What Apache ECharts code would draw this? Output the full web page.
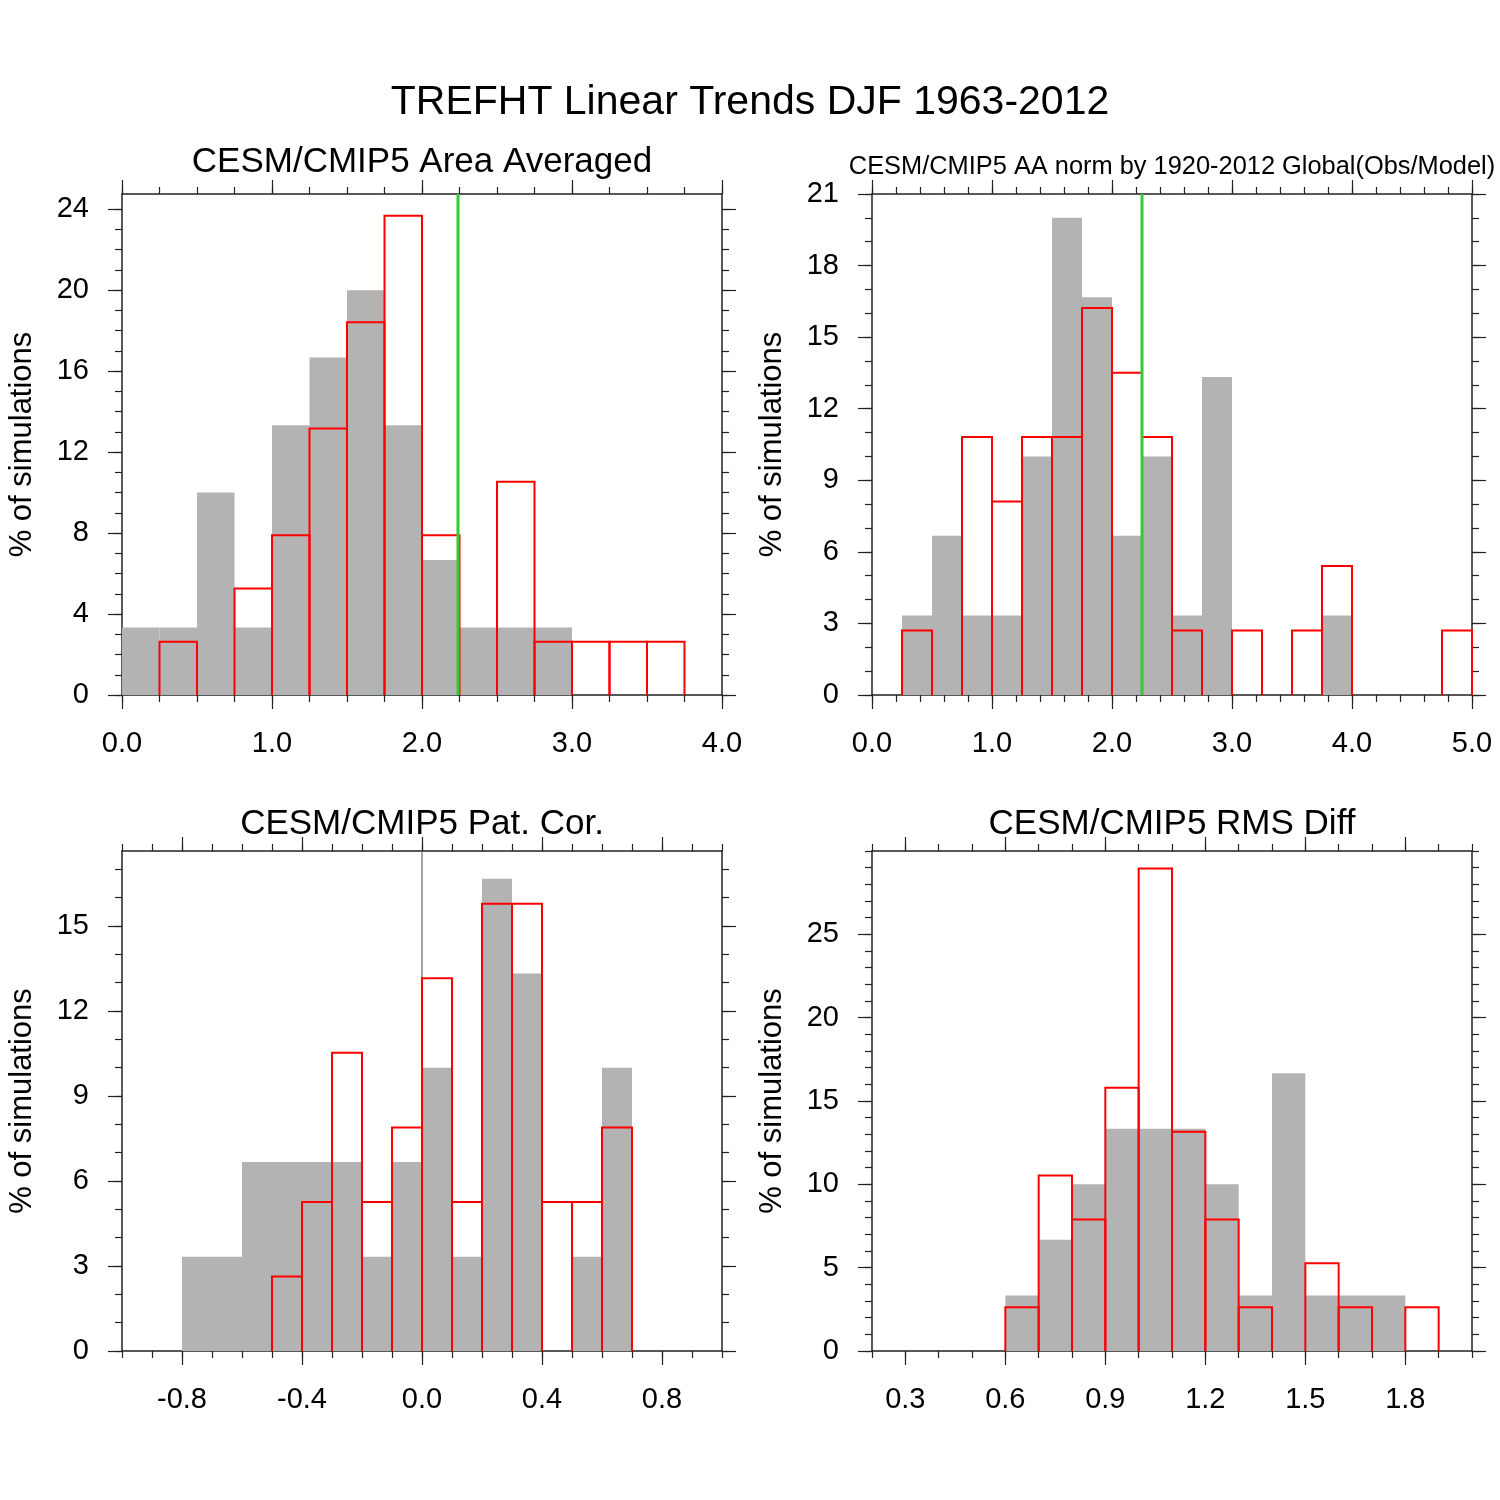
<!DOCTYPE html>
<html lang="en" style="height: 100%">
<head>
  <meta charset="utf-8">
</head>
<body style="height: 100%; margin: 0; background: #fff">
  <div id="container" style="width: 1500px; height: 1500px"></div>

<script type="text/javascript" src="https://cdn.jsdelivr.net/npm/echarts@6/dist/echarts.min.js"></script>

<script type="text/javascript">
// ---- data: percent of simulations per bin (gray = CESM, red = CMIP5) ----
// area averaged trend, bins of 0.25
var aaEdges = [0, 0.25, 0.5, 0.75, 1.0, 1.25, 1.5, 1.75, 2.0, 2.25, 2.5, 2.75, 3.0, 3.25, 3.5, 3.75];
var aaGray  = [3.33, 3.33, 10, 3.33, 13.33, 16.67, 20, 13.33, 6.67, 3.33, 3.33, 3.33, 0, 0, 0, 0];
var aaRed   = [0, 2.63, 0, 5.26, 7.89, 13.16, 18.42, 23.68, 7.89, 0, 10.53, 2.63, 2.63, 2.63, 2.63, 0];
var aaObs = 2.24;

// AA normalised by global trend, bins of 0.25
var normEdges = [0, 0.25, 0.5, 0.75, 1.0, 1.25, 1.5, 1.75, 2.0, 2.25, 2.5, 2.75, 3.0, 3.25, 3.5, 3.75, 4.0, 4.25, 4.5, 4.75];
var normGray  = [0, 3.33, 6.67, 3.33, 3.33, 10, 20, 16.67, 6.67, 10, 3.33, 13.33, 0, 0, 0, 3.33, 0, 0, 0, 0];
var normRed   = [0, 2.70, 0, 10.81, 8.11, 10.81, 10.81, 16.22, 13.51, 10.81, 2.70, 0, 2.70, 0, 2.70, 5.41, 0, 0, 0, 2.70];
var normObs = 2.25;

// pattern correlation, bins of 0.1
var patEdges = [-1.0, -0.9, -0.8, -0.7, -0.6, -0.5, -0.4, -0.3, -0.2, -0.1, 0, 0.1, 0.2, 0.3, 0.4, 0.5, 0.6, 0.7, 0.8, 0.9];
var patGray  = [0, 0, 3.33, 3.33, 6.67, 6.67, 6.67, 6.67, 3.33, 6.67, 10, 3.33, 16.67, 13.33, 0, 3.33, 10, 0, 0, 0];
var patRed   = [0, 0, 0, 0, 0, 2.63, 5.26, 10.53, 5.26, 7.89, 13.16, 5.26, 15.79, 15.79, 5.26, 5.26, 7.89, 0, 0, 0];
var patRef = 0;

// RMS difference, bins of 0.1
var rmsEdges = [0.2, 0.3, 0.4, 0.5, 0.6, 0.7, 0.8, 0.9, 1.0, 1.1, 1.2, 1.3, 1.4, 1.5, 1.6, 1.7, 1.8, 1.9];
var rmsGray  = [0, 0, 0, 0, 3.33, 6.67, 10, 13.33, 13.33, 13.33, 10, 3.33, 16.67, 3.33, 3.33, 3.33, 0, 0];
var rmsRed   = [0, 0, 0, 0, 2.63, 10.53, 7.89, 15.79, 28.95, 13.16, 7.89, 2.63, 0, 5.26, 2.63, 0, 2.63, 0];

// tick labels
var aaXTicks   = [0, 1, 2, 3, 4];
var aaYTicks   = [0, 4, 8, 12, 16, 20, 24];
var normXTicks = [0, 1, 2, 3, 4, 5];
var normYTicks = [0, 3, 6, 9, 12, 15, 18, 21];
var patXTicks  = [-0.8, -0.4, 0, 0.4, 0.8];
var patYTicks  = [0, 3, 6, 9, 12, 15];
var rmsXTicks  = [0.3, 0.6, 0.9, 1.2, 1.5, 1.8];
var rmsYTicks  = [0, 5, 10, 15, 20, 25];

var FONT = "'Liberation Sans', Arial, Helvetica, sans-serif";
var FRAME = '#222';

var dom = document.getElementById('container');
var myChart = echarts.init(dom, null, { renderer: 'canvas' });

function steps(min, max, step) {
  var out = [];
  var n = Math.round((max - min) / step);
  for (var i = 0; i <= n; i++) out.push(+(min + i * step).toFixed(4));
  return out;
}

function histData(edges, width, vals) {
  return edges.map(function (e, i) { return [e, +(e + width).toFixed(4), vals[i]]; })
    .filter(function (d) { return d[2] > 0; });
}

function grayBar(params, api) {
  var p0 = api.coord([api.value(0), api.value(2)]);
  var p1 = api.coord([api.value(1), 0]);
  return {
    type: 'rect',
    shape: { x: p0[0], y: p0[1], width: p1[0] - p0[0], height: p1[1] - p0[1] },
    style: { fill: '#b3b3b3' }
  };
}

function redBar(params, api) {
  var a = api.coord([api.value(0), 0]);
  var b = api.coord([api.value(0), api.value(2)]);
  var c = api.coord([api.value(1), api.value(2)]);
  var d = api.coord([api.value(1), 0]);
  return {
    type: 'polyline',
    shape: { points: [a, b, c, d] },
    style: { stroke: '#ff0000', lineWidth: 2, fill: null }
  };
}

// four axes per side: labelled major, minor, and mirrored ones on the opposite side
function axesFor(dim, grid, min, max, majors, minorStep, fmt, name) {
  var minors = steps(min, max, minorStep);
  var pos = dim === 'x' ? ['bottom', 'top'] : ['left', 'right'];
  var list = [];
  pos.forEach(function (p, k) {
    [true, false].forEach(function (major) {
      var ax = {
        gridIndex: grid,
        type: 'value',
        position: p,
        min: min,
        max: max,
        splitLine: { show: false },
        axisLine: { show: major, onZero: false, lineStyle: { color: FRAME, width: 1.5 } },
        axisTick: {
          show: true, inside: false, length: major ? 14 : 7,
          customValues: major ? majors : minors,
          lineStyle: { color: FRAME, width: 1.2 }
        },
        axisLabel: { show: false }
      };
      if (major && k === 0) {
        ax.axisLabel = {
          show: true, customValues: majors, formatter: fmt,
          margin: dim === 'x' ? 34 : 33, fontSize: 29, color: '#000', fontFamily: FONT
        };
        if (name) {
          ax.name = name;
          ax.nameLocation = 'middle';
          ax.nameGap = 84;
          ax.nameRotate = 90;
          ax.nameTextStyle = { fontSize: 31, color: '#000', fontFamily: FONT };
        }
      }
      list.push(ax);
    });
  });
  return list;
}

var fmt1 = function (v) { return (+v).toFixed(1); };
var fmt0 = function (v) { return String(Math.round(v)); };
var yName = '% of simulations';

var grids = [
  { left: 122, top: 194, width: 600, height: 501 },
  { left: 872, top: 194, width: 600, height: 501 },
  { left: 122, top: 851, width: 600, height: 500 },
  { left: 872, top: 851, width: 600, height: 500 }
];

var xAxes = [].concat(
  axesFor('x', 0, 0, 4, aaXTicks, 0.25, fmt1),
  axesFor('x', 1, 0, 5, normXTicks, 0.2, fmt1),
  axesFor('x', 2, -1, 1, patXTicks, 0.1, fmt1),
  axesFor('x', 3, 0.2, 2.0, rmsXTicks, 0.1, fmt1)
);
var yAxes = [].concat(
  axesFor('y', 0, 0, 24.75, aaYTicks, 1, fmt0, yName),
  axesFor('y', 1, 0, 21, normYTicks, 1, fmt0, yName),
  axesFor('y', 2, 0, 17.65, patYTicks, 1, fmt0, yName),
  axesFor('y', 3, 0, 30, rmsYTicks, 1, fmt0, yName)
);

var panels = [
  { edges: aaEdges, w: 0.25, gray: aaGray, red: aaRed, ref: aaObs, refColor: '#33cc33', refWidth: 3, ymax: 24.75 },
  { edges: normEdges, w: 0.25, gray: normGray, red: normRed, ref: normObs, refColor: '#33cc33', refWidth: 3, ymax: 21 },
  { edges: patEdges, w: 0.1, gray: patGray, red: patRed, ref: patRef, refColor: '#666666', refWidth: 1.2, ymax: 17.65, under: true },
  { edges: rmsEdges, w: 0.1, gray: rmsGray, red: rmsRed, ref: null, ymax: 30 }
];

var series = [];
panels.forEach(function (p, i) {
  var ax = { xAxisIndex: 4 * i, yAxisIndex: 4 * i };
  var refLine = p.ref === null ? null : Object.assign({
    type: 'line', data: [[p.ref, 0], [p.ref, p.ymax]], symbol: 'none',
    z: p.under ? 1 : 4, lineStyle: { color: p.refColor, width: p.refWidth }
  }, ax);
  if (refLine && p.under) series.push(refLine);
  series.push(Object.assign({
    type: 'custom', renderItem: grayBar, data: histData(p.edges, p.w, p.gray),
    encode: { x: [0, 1], y: 2 }, z: 2
  }, ax));
  series.push(Object.assign({
    type: 'custom', renderItem: redBar, data: histData(p.edges, p.w, p.red),
    encode: { x: [0, 1], y: 2 }, z: 3
  }, ax));
  if (refLine && !p.under) series.push(refLine);
});

function title(text, x, y, size) {
  return {
    text: text, left: x, top: y, textAlign: 'center', padding: 0,
    textStyle: { fontSize: size, fontWeight: 'normal', color: '#000', fontFamily: FONT }
  };
}

var option = {
  animation: false,
  title: [
    title('TREFHT Linear Trends DJF 1963-2012', 750, 82, 41),
    title('CESM/CMIP5 Area Averaged', 422, 145, 35),
    title('CESM/CMIP5 AA norm by 1920-2012 Global(Obs/Model)', 1172, 154, 25.4),
    title('CESM/CMIP5 Pat. Cor.', 422, 807, 35),
    title('CESM/CMIP5 RMS Diff', 1172, 807, 35)
  ],
  grid: grids,
  xAxis: xAxes,
  yAxis: yAxes,
  series: series
};

myChart.setOption(option);
window.addEventListener('resize', myChart.resize);
</script>
</body>
</html>
